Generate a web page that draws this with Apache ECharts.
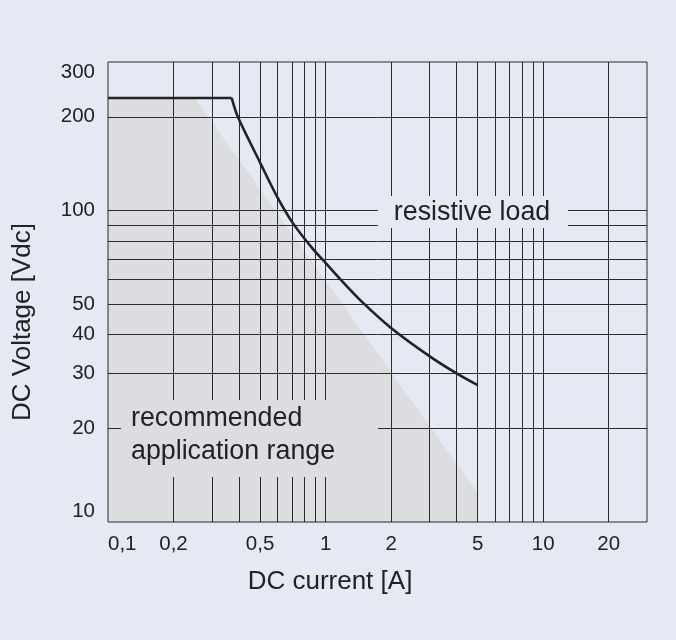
<!DOCTYPE html>
<html><head><meta charset="utf-8">
<script src="https://cdn.jsdelivr.net/npm/echarts@6/dist/echarts.min.js"></script>
<style>html,body{margin:0;padding:0;background:#e6e8f4;} #c{width:676px;height:640px;}</style>
</head><body><div id="c"></div>
<script>
// tick labels
const xTickValues = [0.1, 0.2, 0.5, 1, 2, 5, 10, 20];
const yTickValues = [10, 20, 30, 40, 50, 100, 200, 300];
// grid lines
const xGridValues = [0.2, 0.3, 0.4, 0.5, 0.6, 0.7, 0.8, 0.9, 1, 2, 3, 4, 5, 6, 7, 8, 9, 10, 20];
const yGridValues = [20, 30, 40, 50, 60, 70, 80, 90, 100, 200];
// resistive load limit curve (A, Vdc)
const limitCurrent = [0.1, 0.37, 0.395, 0.5, 0.6, 0.71, 0.87, 1.0, 1.17, 1.45, 2, 3, 4, 5];
const limitVoltage = [230, 230, 200, 142.6, 110.5, 90.8, 75.6, 67.9, 60.1, 51.4, 42.0, 34.1, 30.0, 27.5];
// recommended application range (shaded)
const rangeCurrent = [0.1, 0.25, 5];
const rangeVoltage = [230, 230, 12.4];

const BG = '#e6e8f4', SHADE = '#dcdde0', INK = '#222222', GRID = '#2b2b2b';
const FONT = "'Liberation Sans', Arial, Helvetica, sans-serif";

const pairs = (xs, ys) => xs.map((x, i) => [x, ys[i]]);
const limitPts = pairs(limitCurrent, limitVoltage);

const chart = echarts.init(document.getElementById('c'), null, {renderer: 'canvas'});
chart.setOption({
  animation: false,
  backgroundColor: BG,
  grid: {left: 108, right: 29, top: 62, bottom: 118, show: true, backgroundColor: 'transparent',
         borderColor: GRID, borderWidth: 1, z: 10},
  xAxis: {
    type: 'log', logBase: 10, min: 0.1, max: 30,
    axisLine: {show: false}, axisTick: {show: false}, splitLine: {show: false}, minorTick: {show: false}, minorSplitLine: {show: false},
    axisLabel: {
      customValues: xTickValues, margin: 12, color: INK, fontSize: 20.5, fontFamily: FONT,
      alignMinLabel: 'left', showMinLabel: true, showMaxLabel: true,
      formatter: v => String(+(+v).toPrecision(6)).replace('.', ',')
    }
  },
  yAxis: {
    type: 'log', logBase: 10, min: 10, max: 300,
    axisLine: {show: false}, axisTick: {show: false}, splitLine: {show: false}, minorTick: {show: false}, minorSplitLine: {show: false},
    axisLabel: {
      customValues: yTickValues, margin: 13, color: INK, fontSize: 20.5, fontFamily: FONT,
      verticalAlignMinLabel: 'bottom', verticalAlignMaxLabel: 'top', showMinLabel: true, showMaxLabel: true,
      formatter: v => String(+(+v).toPrecision(6))
    }
  },
  series: [
    {
      type: 'line', z: 2, silent: true, symbol: 'none',
      data: pairs(rangeCurrent, rangeVoltage),
      lineStyle: {width: 0, opacity: 0},
      areaStyle: {color: SHADE, opacity: 1, origin: 'start'}
    },
    {
      type: 'line', z: 3, silent: true, symbol: 'none', data: [],
      markLine: {
        z: 3, silent: true, symbol: 'none', animation: false,
        label: {show: false}, emphasis: {disabled: true},
        lineStyle: {color: GRID, width: 1, type: 'solid'},
        data: xGridValues.map(v => ({xAxis: v})).concat(yGridValues.map(v => ({yAxis: v})))
      }
    },
    {
      type: 'line', z: 6, silent: true, symbol: 'none',
      data: limitPts.slice(0, 2),
      lineStyle: {color: INK, width: 2.6}
    },
    {
      type: 'line', z: 6, silent: true, symbol: 'none', smooth: 0.3,
      data: limitPts.slice(1),
      lineStyle: {color: INK, width: 2.6}
    }
  ],
  graphic: [
    {type: 'rect', z: 8, silent: true, shape: {x: 378, y: 196, width: 190, height: 32}, style: {fill: BG}},
    {type: 'text', z: 9, silent: true, x: 472, y: 213,
     style: {text: 'resistive load', font: '26.8px ' + FONT, fill: INK, align: 'center', verticalAlign: 'middle'}},
    {type: 'rect', z: 8, silent: true, shape: {x: 121, y: 400, width: 257, height: 77}, style: {fill: SHADE}},
    {type: 'text', z: 9, silent: true, x: 131, y: 402,
     style: {text: 'recommended\napplication range', font: '26.8px ' + FONT, lineHeight: 33, fill: INK, align: 'left', verticalAlign: 'top'}},
    {type: 'text', z: 9, silent: true, x: 330, y: 582,
     style: {text: 'DC current [A]', font: '26px ' + FONT, fill: INK, align: 'center', verticalAlign: 'middle'}},
    {type: 'text', z: 9, silent: true, x: 23, y: 322, rotation: Math.PI / 2,
     style: {text: 'DC Voltage [Vdc]', font: '26px ' + FONT, fill: INK, align: 'center', verticalAlign: 'middle'}}
  ]
});
</script></body></html>
